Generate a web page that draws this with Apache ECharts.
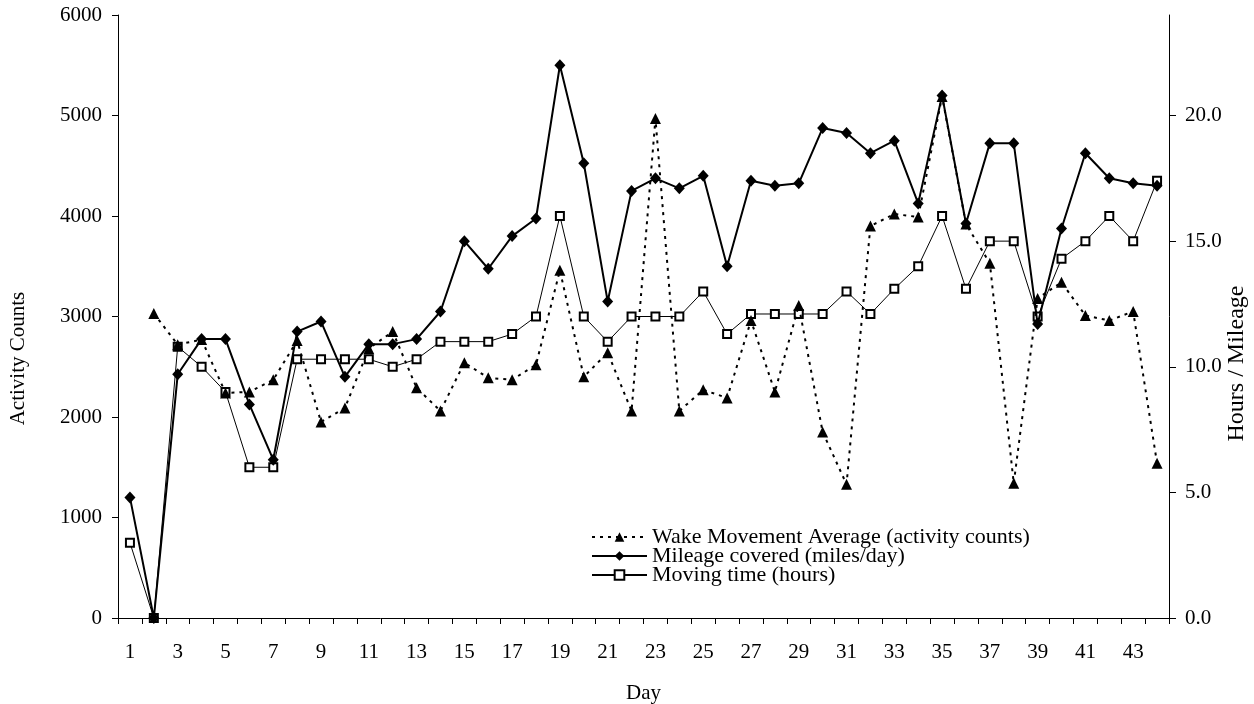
<!DOCTYPE html>
<html>
<head>
<meta charset="utf-8">
<script src="https://cdn.jsdelivr.net/npm/echarts@6/dist/echarts.min.js"></script>
<style>
html,body{margin:0;padding:0;background:#fff;}
#chart{width:1254px;height:704px;}
</style>
</head>
<body>
<div id="chart"></div>
<script>
var days = [];
for (var d = 1; d <= 44; d++) days.push(String(d));

var seriesNames = ['Wake Movement Average (activity counts)', 'Mileage covered (miles/day)', 'Moving time (hours)'];

// Activity counts (left axis)
var wakeMovement = [null, 3030, 2720, 2770, 2240, 2250, 2370, 2760, 1950, 2090,
  2680, 2850, 2290, 2060, 2540, 2390, 2370, 2520, 3460, 2400,
  2640, 2060, 4970, 2060, 2270, 2190, 2960, 2250, 3110, 1850,
  1330, 3900, 4020, 3990, 5190, 3920, 3530, 1340, 3180, 3340,
  3010, 2960, 3050, 1540];

// Miles per day (right axis)
var mileage = [4.8, 0, 9.7, 11.1, 11.1, 8.5, 6.3, 11.4, 11.8, 9.6,
  10.9, 10.9, 11.1, 12.2, 15.0, 13.9, 15.2, 15.9, 22.0, 18.1,
  12.6, 17.0, 17.5, 17.1, 17.6, 14.0, 17.4, 17.2, 17.3, 19.5,
  19.3, 18.5, 19.0, 16.5, 20.8, 15.7, 18.9, 18.9, 11.7, 15.5,
  18.5, 17.5, 17.3, 17.2];

// Hours moving (right axis)
var movingTime = [3.0, 0, 10.8, 10.0, 9.0, 6.0, 6.0, 10.3, 10.3, 10.3,
  10.3, 10.0, 10.3, 11.0, 11.0, 11.0, 11.3, 12.0, 16.0, 12.0,
  11.0, 12.0, 12.0, 12.0, 13.0, 11.3, 12.1, 12.1, 12.1, 12.1,
  13.0, 12.1, 13.1, 14.0, 16.0, 13.1, 15.0, 15.0, 12.0, 14.3,
  15.0, 16.0, 15.0, 17.4];

var FONT = 'Liberation Serif';
var chart = echarts.init(document.getElementById('chart'), null, {renderer: 'canvas'});
var axisLineStyle = {color: '#000', width: 1};

chart.setOption({
  backgroundColor: '#fff',
  animation: false,
  textStyle: {fontFamily: FONT, color: '#000'},
  grid: {left: 118, right: 85, top: 15, bottom: 86, containLabel: false, outerBoundsMode: 'none'},
  legend: {
    orient: 'vertical',
    left: 586,
    top: 521,
    itemGap: -3,
    itemWidth: 55,
    itemHeight: 12,
    data: seriesNames,
    textStyle: {fontFamily: FONT, fontSize: 22, color: '#000'}
  },
  xAxis: {
    type: 'category',
    data: days,
    boundaryGap: true,
    name: 'Day',
    nameLocation: 'middle',
    nameGap: 65,
    nameTextStyle: {fontFamily: FONT, fontSize: 21, color: '#000'},
    axisLine: {lineStyle: axisLineStyle},
    axisTick: {show: true, interval: 0, length: 6, lineStyle: axisLineStyle},
    axisLabel: {interval: 1, margin: 24, fontFamily: FONT, fontSize: 21, color: '#000'},
    splitLine: {show: false}
  },
  yAxis: [
    {
      type: 'value',
      min: 0, max: 6000, interval: 1000,
      name: 'Activity Counts',
      nameLocation: 'middle',
      nameGap: 89,
      nameMoveOverlap: false,
      nameTextStyle: {fontFamily: FONT, fontSize: 21, color: '#000', padding: [0, 84, 0, 0]},
      axisLine: {show: true, lineStyle: axisLineStyle},
      axisTick: {show: true, length: 6, lineStyle: axisLineStyle},
      axisLabel: {margin: 16, fontFamily: FONT, fontSize: 21, color: '#000',
        formatter: function (v) { return String(v); }},
      splitLine: {show: false}
    },
    {
      type: 'value',
      position: 'right',
      min: 0, max: 24, interval: 5,
      name: 'Hours / Mileage',
      nameLocation: 'middle',
      nameGap: 56,
      nameMoveOverlap: false,
      nameTextStyle: {fontFamily: FONT, fontSize: 24, color: '#000', padding: [0, 94, 0, 0]},
      axisLine: {show: true, lineStyle: axisLineStyle},
      axisTick: {show: true, length: 7, lineStyle: axisLineStyle},
      axisLabel: {margin: 16, fontFamily: FONT, fontSize: 21, color: '#000', showMaxLabel: false,
        formatter: function (v) { return v.toFixed(1); }},
      splitLine: {show: false}
    }
  ],
  series: [
    {
      name: seriesNames[0],
      type: 'line',
      yAxisIndex: 0,
      data: wakeMovement,
      z: 3,
      symbol: 'triangle',
      symbolSize: 11,
      showAllSymbol: true,
      lineStyle: {color: '#000', width: 2, type: [3, 5]},
      itemStyle: {color: '#000', borderColor: '#000', borderWidth: 0}
    },
    {
      name: seriesNames[1],
      type: 'line',
      yAxisIndex: 1,
      data: mileage,
      z: 4,
      symbol: 'diamond',
      symbolSize: [11, 12],
      showAllSymbol: true,
      lineStyle: {color: '#000', width: 2},
      itemStyle: {color: '#000', borderColor: '#000', borderWidth: 0}
    },
    {
      name: seriesNames[2],
      type: 'line',
      yAxisIndex: 1,
      data: movingTime,
      z: 2,
      symbol: 'rect',
      symbolSize: 8,
      showAllSymbol: true,
      lineStyle: {color: '#000', width: 1},
      itemStyle: {color: '#fff', borderColor: '#000', borderWidth: 2}
    }
  ]
});
</script>
</body>
</html>
